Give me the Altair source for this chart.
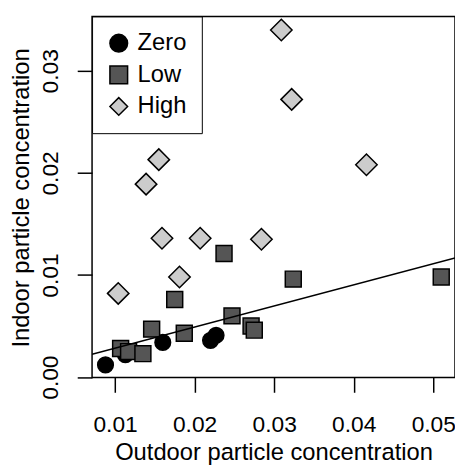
import altair as alt
import pandas as pd

# ---- data ----
groups = ["Zero", "Low", "High"]

zero_x = [0.0088, 0.0113, 0.0160, 0.0220, 0.0227]
zero_y = [0.0012, 0.0022, 0.0034, 0.0036, 0.0041]

low_x = [0.0107, 0.0117, 0.0135, 0.0146, 0.0175, 0.0187, 0.0237, 0.0247, 0.0271, 0.0275, 0.0324, 0.0510]
low_y = [0.0028, 0.0025, 0.0023, 0.0047, 0.0076, 0.0043, 0.0121, 0.0060, 0.0050, 0.0046, 0.0096, 0.0098]

high_x = [0.0104, 0.0139, 0.0155, 0.0159, 0.0181, 0.0207, 0.0284, 0.0309, 0.0322, 0.0416]
high_y = [0.0082, 0.0189, 0.0213, 0.0136, 0.0098, 0.0136, 0.0135, 0.0340, 0.0272, 0.0208]

x_ticks = [0.01, 0.02, 0.03, 0.04, 0.05]
y_ticks = [0.00, 0.01, 0.02, 0.03]

fit_intercept = 0.000757
fit_slope = 0.2071

# ---- styling ----
shapes = ["circle", "square", "diamond"]
fills = ["#000000", "#555555", "#cccccc"]
strokes = ["#000000", "#000000", "#000000"]
sizes = [250, 260, 470]
x_domain = [0.00711, 0.05273]
y_domain = [-0.00003, 0.03532]
FONT = "Liberation Sans"

rows = []
for g, xs, ys in zip(groups, [zero_x, low_x, high_x], [zero_y, low_y, high_y]):
    for xv, yv in zip(xs, ys):
        rows.append({"outdoor": xv, "indoor": yv, "group": g})
df = pd.DataFrame(rows)

line_df = pd.DataFrame({
    "outdoor": x_domain,
    "indoor": [fit_intercept + fit_slope * v for v in x_domain],
})

xscale = alt.Scale(domain=x_domain, nice=False, zero=False)
yscale = alt.Scale(domain=y_domain, nice=False, zero=False)

x_axis = alt.Axis(
    values=x_ticks, format=".2f", domain=False, grid=False,
    tickSize=15, tickWidth=1.5, tickColor="black",
    labelFont=FONT, labelFontSize=23, labelColor="black", labelPadding=22,
    labelFlush=False, labelOverlap=False,
    titleFont=FONT, titleFontSize=24, titleFontWeight="normal", titleColor="black",
    titleBaseline="alphabetic", titleY=83, titleX=183.5, titleAlign="center",
)
y_axis = alt.Axis(
    values=y_ticks, format=".2f", domain=False, grid=False,
    tickSize=15, tickWidth=1.5, tickColor="black",
    labelFont=FONT, labelFontSize=23, labelColor="black", labelPadding=20,
    labelAngle=270, labelAlign="center", labelBaseline="alphabetic",
    labelFlush=False, labelOverlap=False,
    titleFont=FONT, titleFontSize=24, titleFontWeight="normal", titleColor="black",
    titleBaseline="alphabetic", titleX=-64, titleY=183, titleAngle=270, titleAlign="center",
)

legend = alt.Legend(
    orient="top-left", offset=0,
    padding=15, strokeColor="black", fillColor="white",
    symbolSize=320, symbolStrokeColor="black", symbolStrokeWidth=1.5,
    labelFont=FONT, labelFontSize=24, labelColor="black",
    labelOffset=7, rowPadding=8,
)

base = alt.Chart(df).mark_point(filled=True, strokeWidth=1.5, opacity=1).encode(
    x=alt.X("outdoor:Q", scale=xscale, axis=x_axis, title="Outdoor particle concentration"),
    y=alt.Y("indoor:Q", scale=yscale, axis=y_axis, title="Indoor particle concentration"),
    shape=alt.Shape("group:N", scale=alt.Scale(domain=groups, range=shapes), legend=legend, title=None),
    fill=alt.Fill("group:N", scale=alt.Scale(domain=groups, range=fills), legend=legend, title=None),
    stroke=alt.Stroke("group:N", scale=alt.Scale(domain=groups, range=strokes), legend=legend, title=None),
)

point_layers = [
    base.transform_filter(alt.datum.group == g).mark_point(
        filled=True, strokeWidth=1.5, opacity=1, size=s
    )
    for g, s in zip(groups, sizes)
]

fit = alt.Chart(line_df).mark_line(color="black", strokeWidth=1.5, clip=True).encode(
    x=alt.X("outdoor:Q", scale=xscale),
    y=alt.Y("indoor:Q", scale=yscale),
)

chart = alt.layer(*point_layers, fit).properties(
    width=367, height=365,
    autosize="none",
    padding={"left": 85, "top": 6, "right": 0, "bottom": 88},
    background="white",
).configure_view(stroke="black", strokeWidth=1.5)

chart.save("out.html", embed_options={"renderer": "svg", "actions": False})
